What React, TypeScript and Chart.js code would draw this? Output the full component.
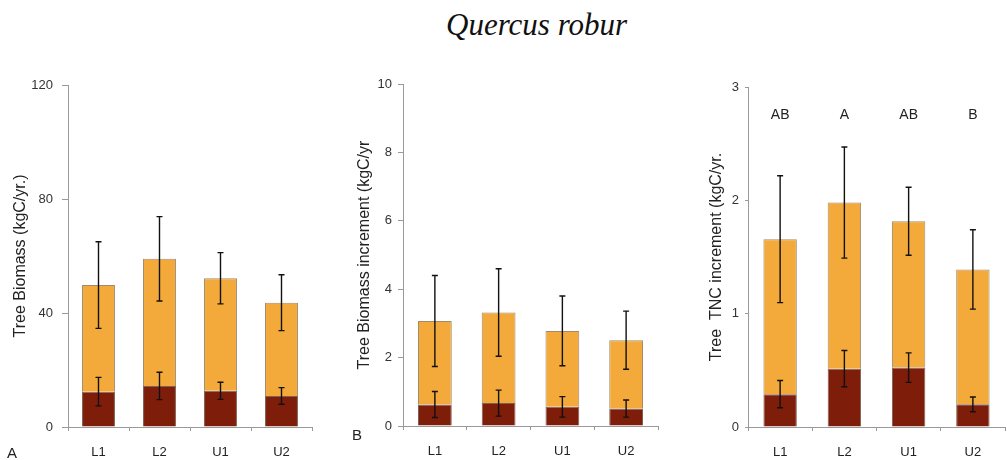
import React, { useEffect, useRef } from "react";
import { Chart, registerables } from "chart.js";

Chart.register(...registerables);

const categories = ["L1", "L2", "U1", "U2"];

// Panel A: Tree Biomass (kgC/yr.)
const biomassDark = [12.4, 14.4, 12.7, 10.9];
const biomassDarkErr = [5.0, 4.8, 3.0, 2.9];
const biomassTotal = [49.8, 59.0, 52.2, 43.6];
const biomassTotalErr = [15.2, 14.8, 9.0, 9.8];

// Panel B: Tree Biomass increment (kgC/yr)
const incrDark = [0.63, 0.67, 0.56, 0.51];
const incrDarkErr = [0.38, 0.38, 0.3, 0.25];
const incrTotal = [3.07, 3.32, 2.78, 2.51];
const incrTotalErr = [1.33, 1.28, 1.02, 0.85];

// Panel C: Tree TNC increment (kgC/yr.)
const tncDark = [0.29, 0.515, 0.524, 0.2];
const tncDarkErr = [0.12, 0.16, 0.13, 0.065];
const tncTotal = [1.657, 1.98, 1.815, 1.39];
const tncTotalErr = [0.56, 0.49, 0.3, 0.35];
const tncLetters = ["AB", "A", "AB", "B"];
const tncLetterLevel = 2.75;

const DARK = "#7f1d0b";
const ORANGE = "#f3aa3a";
const AXIS = "#9a9a9a";
const SANS = "'Liberation Sans', Arial, sans-serif";

type PanelSpec = {
  dark: number[];
  darkErr: number[];
  total: number[];
  totalErr: number[];
  max: number;
  step: number;
  yTitle: string;
  scaleLeft: number;
  chartLeft: number;
  chartRight: number;
  chartTop: number;
  chartBottom: number;
  yTickLen: number;
  yTickPad: number;
  barPct: number;
  letters?: string[];
  letterLevel?: number;
};

const W = 1007;
const H = 460;
const XH = 32;

const panels: PanelSpec[] = [
  {
    dark: biomassDark, darkErr: biomassDarkErr, total: biomassTotal, totalErr: biomassTotalErr,
    max: 120, step: 40, yTitle: "Tree Biomass (kgC/yr.)",
    scaleLeft: 11, chartLeft: 68, chartRight: 312, chartTop: 85, chartBottom: 427,
    yTickLen: 6, yTickPad: 9, barPct: 0.54,
  },
  {
    dark: incrDark, darkErr: incrDarkErr, total: incrTotal, totalErr: incrTotalErr,
    max: 10, step: 2, yTitle: "Tree Biomass increment (kgC/yr",
    scaleLeft: 355, chartLeft: 403, chartRight: 658, chartTop: 84, chartBottom: 426,
    yTickLen: 5, yTickPad: 6, barPct: 0.53,
  },
  {
    dark: tncDark, darkErr: tncDarkErr, total: tncTotal, totalErr: tncTotalErr,
    max: 3, step: 1, yTitle: "Tree  TNC increment (kgC/yr.",
    scaleLeft: 707, chartLeft: 748, chartRight: 1005, chartTop: 87, chartBottom: 427,
    yTickLen: 3, yTickPad: 6, barPct: 0.52,
    letters: tncLetters, letterLevel: tncLetterLevel,
  },
];

function makeConfig(p: PanelSpec): any {
  const upper = p.total.map((t, i) => t - p.dark[i]);
  const errorPlugin = {
    id: "errbars",
    afterDatasetsDraw(chart: any) {
      const { ctx } = chart;
      const xs = chart.scales.x;
      const ys = chart.scales.y;
      ctx.save();
      ctx.strokeStyle = "#111";
      ctx.lineWidth = 1.4;
      const draw = (i: number, v: number, e: number) => {
        const x = xs.getPixelForValue(i);
        const y1 = ys.getPixelForValue(v + e);
        const y2 = ys.getPixelForValue(v - e);
        ctx.beginPath();
        ctx.moveTo(x, y1);
        ctx.lineTo(x, y2);
        ctx.moveTo(x - 3, y1);
        ctx.lineTo(x + 3, y1);
        ctx.moveTo(x - 3, y2);
        ctx.lineTo(x + 3, y2);
        ctx.stroke();
      };
      categories.forEach((_, i) => {
        draw(i, p.dark[i], p.darkErr[i]);
        draw(i, p.total[i], p.totalErr[i]);
      });
      if (p.letters) {
        ctx.fillStyle = "#222";
        ctx.font = "14px " + SANS;
        ctx.textAlign = "center";
        ctx.textBaseline = "middle";
        p.letters.forEach((l, i) => {
          ctx.fillText(l, xs.getPixelForValue(i), ys.getPixelForValue(p.letterLevel as number));
        });
      }
      ctx.restore();
    },
  };
  const yWidth = p.chartLeft - p.scaleLeft;
  return {
    type: "bar",
    data: {
      labels: categories,
      datasets: [
        {
          data: p.dark,
          backgroundColor: DARK,
          borderColor: "rgba(70,30,10,0.7)",
          borderWidth: 1,
          categoryPercentage: 1,
          barPercentage: p.barPct,
        },
        {
          data: upper,
          backgroundColor: ORANGE,
          borderColor: "rgba(120,90,50,0.7)",
          borderWidth: 1,
          categoryPercentage: 1,
          barPercentage: p.barPct,
        },
      ],
    },
    plugins: [errorPlugin],
    options: {
      responsive: false,
      animation: false,
      devicePixelRatio: 1,
      layout: {
        padding: {
          left: p.scaleLeft,
          right: W - p.chartRight,
          top: p.chartTop,
          bottom: H - p.chartBottom - XH,
        },
      },
      plugins: { legend: { display: false }, tooltip: { enabled: false }, title: { display: false } },
      scales: {
        x: {
          stacked: true,
          offset: true,
          grid: { display: true, drawOnChartArea: false, drawTicks: true, tickLength: 4, color: AXIS, offset: true },
          border: { display: true, color: AXIS, width: 1 },
          ticks: { color: "#222", font: { family: SANS, size: 13 }, padding: 14, maxRotation: 0 },
          afterFit(scale: any) {
            scale.height = XH;
            scale.paddingLeft = 0;
            scale.paddingRight = 0;
          },
        },
        y: {
          stacked: true,
          min: 0,
          max: p.max,
          grid: { display: true, drawOnChartArea: false, drawTicks: true, tickLength: p.yTickLen, color: AXIS },
          border: { display: true, color: AXIS, width: 1 },
          ticks: { stepSize: p.step, color: "#333", font: { family: SANS, size: 13 }, padding: p.yTickPad },
          title: {
            display: true,
            text: p.yTitle,
            color: "#222",
            font: { family: SANS, size: 16 },
            padding: { top: 0, bottom: 0 },
          },
          afterFit(scale: any) {
            scale.width = yWidth;
            scale.paddingTop = 0;
            scale.paddingBottom = 0;
          },
        },
      },
    },
  };
}

function Panel({ spec }: { spec: PanelSpec }) {
  const ref = useRef<HTMLCanvasElement | null>(null);
  useEffect(() => {
    if (!ref.current) return;
    const chart = new Chart(ref.current, makeConfig(spec));
    return () => chart.destroy();
  }, [spec]);
  return (
    <canvas
      ref={ref}
      width={W}
      height={H}
      style={{ position: "absolute", left: 0, top: 0, width: W, height: H }}
    />
  );
}

export default function App() {
  return (
    <div style={{ position: "fixed", left: 0, top: 0, width: W, height: H, background: "#fff", overflow: "hidden" }}>
      <div
        style={{
          position: "absolute",
          left: 446,
          top: 9,
          fontFamily: "'Liberation Serif', 'Times New Roman', serif",
          fontStyle: "italic",
          fontSize: 31,
          lineHeight: "31px",
          color: "#111",
          whiteSpace: "nowrap",
        }}
      >
        Quercus robur
      </div>
      {panels.map((p, i) => (
        <Panel key={i} spec={p} />
      ))}
      <div style={{ position: "absolute", left: 7, top: 444, fontFamily: SANS, fontSize: 15, color: "#222", lineHeight: "17px" }}>A</div>
      <div style={{ position: "absolute", left: 352, top: 426, fontFamily: SANS, fontSize: 15, color: "#222", lineHeight: "17px" }}>B</div>
    </div>
  );
}
